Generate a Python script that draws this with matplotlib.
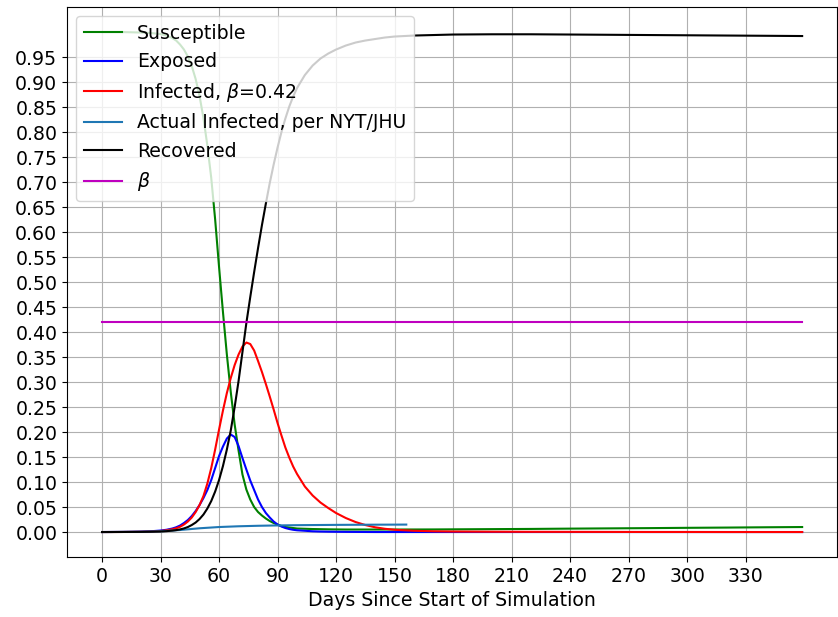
import numpy as np
import matplotlib
matplotlib.use('Agg')
import matplotlib.pyplot as plt

plt.rcParams['font.size'] = 13.6

# 그림에서 읽은 값 (날짜별)
days = [0, 5, 10, 15, 20, 25, 30, 33, 36, 38,
        40, 42, 44, 46, 48, 50, 52, 54, 56, 58,
        60, 62, 64, 66, 68, 70, 72, 74, 76, 78,
        80, 82, 84, 86, 88, 90, 92, 94, 96, 98,
        100, 104, 108, 112, 116, 120, 125, 130, 135, 140,
        145, 150, 160, 170, 180, 200, 220, 240, 260, 280,
        300, 320, 340, 359]
susceptible = [1.0, 1.0, 1.0, 0.9995, 0.999, 0.998, 0.996, 0.993, 0.988, 0.983,
               0.975, 0.965, 0.951, 0.932, 0.906, 0.872, 0.828, 0.773, 0.708, 0.625,
               0.53, 0.44, 0.355, 0.28, 0.215, 0.163, 0.115, 0.085, 0.065, 0.05,
               0.04, 0.033, 0.027, 0.022, 0.018, 0.015, 0.012, 0.010, 0.009, 0.008,
               0.007, 0.0065, 0.006, 0.0057, 0.0054, 0.0052, 0.005, 0.005, 0.005, 0.005,
               0.005, 0.005, 0.0051, 0.0052, 0.0054, 0.0058, 0.0062, 0.0068, 0.0073, 0.0078,
               0.0084, 0.0089, 0.0095, 0.010]
exposed = [0.0, 0.0001, 0.0002, 0.0004, 0.0008, 0.0015, 0.003, 0.0045, 0.007, 0.0095,
           0.013, 0.018, 0.024, 0.032, 0.042, 0.054, 0.068, 0.084, 0.104, 0.128,
           0.152, 0.171, 0.187, 0.195, 0.19, 0.172, 0.148, 0.125, 0.103, 0.084,
           0.065, 0.05, 0.038, 0.029, 0.021, 0.015, 0.011, 0.008, 0.006, 0.0045,
           0.0035, 0.0025, 0.0015, 0.001, 0.0007, 0.0005, 0.0003, 0.0002, 0.0001, 0.0,
           0.0, 0.0, 0.0, 0.0, 0.0, 0.0, 0.0, 0.0, 0.0, 0.0,
           0.0, 0.0, 0.0, 0.0]
infected = [0.0, 0.00005, 0.0001, 0.0003, 0.0005, 0.001, 0.002, 0.0035, 0.0055, 0.0075,
            0.0105, 0.015, 0.021, 0.029, 0.04, 0.054, 0.072, 0.097, 0.128, 0.165,
            0.205, 0.243, 0.278, 0.308, 0.334, 0.355, 0.371, 0.379, 0.376, 0.363,
            0.342, 0.32, 0.296, 0.271, 0.245, 0.218, 0.193, 0.169, 0.149, 0.131,
            0.116, 0.091, 0.073, 0.059, 0.048, 0.038, 0.028, 0.02, 0.014, 0.0095,
            0.0065, 0.0045, 0.0025, 0.0015, 0.001, 0.0006, 0.0004, 0.0003, 0.0002, 0.0001,
            0.0001, 0.0, 0.0, 0.0]
recovered = [0.0, 0.0, 0.0001, 0.0002, 0.0003, 0.0006, 0.001, 0.0017, 0.0028, 0.0038,
             0.0052, 0.0072, 0.010, 0.014, 0.019, 0.026, 0.035, 0.047, 0.062, 0.081,
             0.104, 0.132, 0.165, 0.203, 0.25, 0.302, 0.36, 0.418, 0.47, 0.52,
             0.568, 0.614, 0.657, 0.698, 0.735, 0.769, 0.8, 0.827, 0.851, 0.871,
             0.888, 0.914, 0.933, 0.947, 0.957, 0.965, 0.973, 0.979, 0.983, 0.986,
             0.989, 0.991, 0.993, 0.994, 0.995, 0.9955, 0.9955, 0.995, 0.9945, 0.994,
             0.9935, 0.993, 0.9925, 0.992]

actual_days = [0, 10, 20, 30, 40, 50, 60, 70, 80, 90, 100, 110, 120, 130, 140,
               150, 156]
actual_infected = [0.0, 0.0002, 0.0005, 0.0015, 0.004, 0.0075, 0.010, 0.0115,
                   0.0125, 0.0132, 0.0137, 0.014, 0.0143, 0.0145, 0.0147,
                   0.0148, 0.0149]

beta_days = [0, 359]
beta = [0.42, 0.42]

fig = plt.figure(figsize=(8.38, 6.17), dpi=100)
ax = fig.add_axes([0.080, 0.0972, 0.919, 0.8914])

ax.plot(days, susceptible, 'g', label='Susceptible')
ax.plot(days, exposed, 'b', label='Exposed')
ax.plot(days, infected, 'r', label=r'Infected, $\beta$=0.42')
ax.plot(actual_days, actual_infected, label='Actual Infected, per NYT/JHU')
ax.plot(days, recovered, 'k', label='Recovered')
ax.plot(beta_days, beta, 'm', label=r'$\beta$')

ax.set_xticks(np.arange(0, 360, 30))
ax.set_yticks(np.arange(0, 1.0, 0.05))
ax.set_xlabel('Days Since Start of Simulation')
ax.grid(True)
ax.legend(loc='upper left')

fig.savefig('out.png', dpi=100)
